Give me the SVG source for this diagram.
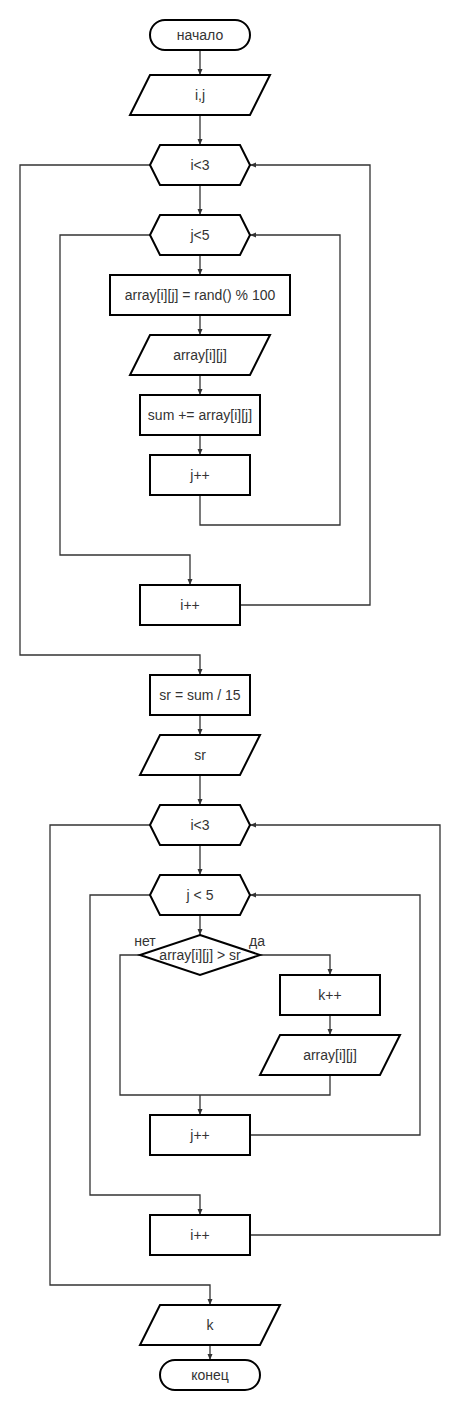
<svg xmlns="http://www.w3.org/2000/svg" width="460" height="1410" viewBox="0 0 460 1410">
<style>
.s{fill:#fff;stroke:#000;stroke-width:2}
.t{font-family:"Liberation Sans",Arial,sans-serif;font-size:14px;fill:#333;text-anchor:middle;dominant-baseline:central}
.c{fill:none;stroke:#333;stroke-width:1.3}
</style>
<defs>
<marker id="a" viewBox="0 0 6 6" refX="6" refY="3" markerWidth="6" markerHeight="6" markerUnits="userSpaceOnUse" orient="auto">
<path d="M0,0.5 L6,3 L0,5.5 Z" fill="#333"/>
</marker>
</defs>
<g id="connectors">
<path class="c" d="M200,50 V75" marker-end="url(#a)"/>
<path class="c" d="M200,115 V145" marker-end="url(#a)"/>
<path class="c" d="M200,185 V215" marker-end="url(#a)"/>
<path class="c" d="M200,255 V275" marker-end="url(#a)"/>
<path class="c" d="M200,315 V335" marker-end="url(#a)"/>
<path class="c" d="M200,375 V395" marker-end="url(#a)"/>
<path class="c" d="M200,435 V455" marker-end="url(#a)"/>
<path class="c" d="M200,495 V525 H340 V235 H250" marker-end="url(#a)"/>
<path class="c" d="M150,235 H60 V555 H190 V585" marker-end="url(#a)"/>
<path class="c" d="M240,605 H370 V165 H250" marker-end="url(#a)"/>
<path class="c" d="M150,165 H20 V655 H200 V675" marker-end="url(#a)"/>
<path class="c" d="M200,715 V735" marker-end="url(#a)"/>
<path class="c" d="M200,775 V805" marker-end="url(#a)"/>
<path class="c" d="M200,845 V875" marker-end="url(#a)"/>
<path class="c" d="M200,915 V935" marker-end="url(#a)"/>
<path class="c" d="M260,955 H330 V975" marker-end="url(#a)"/>
<path class="c" d="M330,1015 V1035" marker-end="url(#a)"/>
<path class="c" d="M140,955 H120 V1095 H330 V1075"/>
<path class="c" d="M200,1095 V1115" marker-end="url(#a)"/>
<path class="c" d="M250,1135 H420 V895 H250" marker-end="url(#a)"/>
<path class="c" d="M150,895 H90 V1195 H200 V1215" marker-end="url(#a)"/>
<path class="c" d="M250,1235 H440 V825 H250" marker-end="url(#a)"/>
<path class="c" d="M150,825 H50 V1285 H210 V1305" marker-end="url(#a)"/>
<path class="c" d="M210,1345 V1360" marker-end="url(#a)"/>
<text class="t" x="145" y="941">нет</text>
<text class="t" x="257" y="941">да</text>
</g>
<g id="start"><rect class="s" x="150" y="20" width="100" height="30" rx="15"/><text class="t" x="200" y="35">начало</text></g>
<g id="input_ij"><polygon class="s" points="150,75 270,75 250,115 130,115"/><text class="t" x="200" y="95">i,j</text></g>
<g id="loop_i1"><polygon class="s" points="150,165 160,145 240,145 250,165 240,185 160,185"/><text class="t" x="200" y="165">i&lt;3</text></g>
<g id="loop_j1"><polygon class="s" points="150,235 160,215 240,215 250,235 240,255 160,255"/><text class="t" x="200" y="235">j&lt;5</text></g>
<g id="rand"><rect class="s" x="110" y="275" width="180" height="40"/><text class="t" x="200" y="295">array[i][j] = rand() % 100</text></g>
<g id="out_arr1"><polygon class="s" points="150,335 270,335 250,375 130,375"/><text class="t" x="200" y="355">array[i][j]</text></g>
<g id="sum"><rect class="s" x="140" y="395" width="120" height="40"/><text class="t" x="200" y="415">sum += array[i][j]</text></g>
<g id="jinc1"><rect class="s" x="150" y="455" width="100" height="40"/><text class="t" x="200" y="475">j++</text></g>
<g id="iinc1"><rect class="s" x="140" y="585" width="100" height="40"/><text class="t" x="190" y="605">i++</text></g>
<g id="sr_calc"><rect class="s" x="150" y="675" width="100" height="40"/><text class="t" x="200" y="695">sr = sum / 15</text></g>
<g id="out_sr"><polygon class="s" points="160,735 260,735 240,775 140,775"/><text class="t" x="200" y="755">sr</text></g>
<g id="loop_i2"><polygon class="s" points="150,825 160,805 240,805 250,825 240,845 160,845"/><text class="t" x="200" y="825">i&lt;3</text></g>
<g id="loop_j2"><polygon class="s" points="150,895 160,875 240,875 250,895 240,915 160,915"/><text class="t" x="200" y="895">j &lt; 5</text></g>
<g id="cond"><polygon class="s" points="200,935 260,955 200,975 140,955"/><text class="t" x="200" y="955">array[i][j] &gt; sr</text></g>
<g id="kinc"><rect class="s" x="280" y="975" width="100" height="40"/><text class="t" x="330" y="995">k++</text></g>
<g id="out_arr2"><polygon class="s" points="280,1035 400,1035 380,1075 260,1075"/><text class="t" x="330" y="1055">array[i][j]</text></g>
<g id="jinc2"><rect class="s" x="150" y="1115" width="100" height="40"/><text class="t" x="200" y="1135">j++</text></g>
<g id="iinc2"><rect class="s" x="150" y="1215" width="100" height="40"/><text class="t" x="200" y="1235">i++</text></g>
<g id="out_k"><polygon class="s" points="160,1305 280,1305 260,1345 140,1345"/><text class="t" x="210" y="1325">k</text></g>
<g id="end"><rect class="s" x="160" y="1360" width="100" height="30" rx="15"/><text class="t" x="210" y="1375">конец</text></g>
</svg>
